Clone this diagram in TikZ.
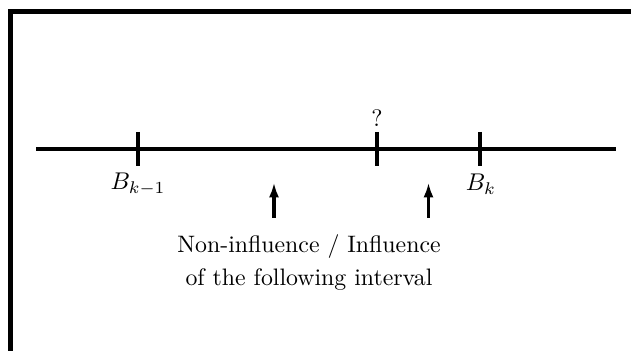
\documentclass[tikz,border=0pt]{standalone}
\usetikzlibrary{arrows.meta}
\begin{document}
\begin{tikzpicture}[x=0.4136pt,y=-0.4136pt,
  frame/.style={line width=2.1pt},
  axisline/.style={line width=1.25pt},
  tick/.style={line width=1.25pt},
  pointer/.style={line width=1.25pt,-{Latex[length=6.2pt,width=4.2pt]}},
  lbl/.style={inner sep=0pt,font=\fontsize{9.85}{12}\selectfont}]
\useasboundingbox (0,0) rectangle (631,351);
% frame (partially cropped)
\coordinate (fTR) at (640,11.5);
\coordinate (fTL) at (10.5,11.5);
\coordinate (fBL) at (10.5,360);
\draw[frame] (fTR) -- (fTL) -- (fBL);
% axis
\coordinate (aL) at (36,149);
\coordinate (aR) at (616,149);
\draw[axisline] (aL) -- (aR);
% ticks
\coordinate (t1a) at (138,132); \coordinate (t1b) at (138,166);
\coordinate (t2a) at (377,132); \coordinate (t2b) at (377,166);
\coordinate (t3a) at (480,132); \coordinate (t3b) at (480,166);
\draw[tick] (t1a) -- (t1b);
\draw[tick] (t2a) -- (t2b);
\draw[tick] (t3a) -- (t3b);
% labels
\node[lbl] (q) at (377,118) {?};
\node[lbl] (bk1) at (138,184) {$B_{k-1}$};
\node[lbl] (bk) at (481,184) {$B_k$};
% arrows
\coordinate (p1s) at (274,218); \coordinate (p1e) at (274,182.5);
\coordinate (p2s) at (428.5,218); \coordinate (p2e) at (428.5,182.5);
\draw[pointer] (p1s) -- (p1e);
\draw[pointer] (p2s) -- (p2e);
% text
\node[lbl] (txt1) at (309,247) {Non-influence / Influence};
\node[lbl] (txt2) at (309,280) {of the following interval};
\end{tikzpicture}
\end{document}
